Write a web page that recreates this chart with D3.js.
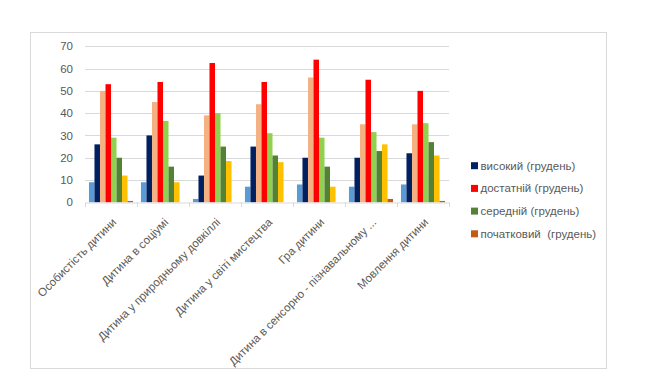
<!DOCTYPE html>
<html><head><meta charset="utf-8">
<script src="https://cdn.jsdelivr.net/npm/d3@7"></script>
<style>body{margin:0;background:#fff}svg{display:block}text{font-family:"Liberation Sans",Arial,sans-serif;white-space:pre}</style>
</head><body>
<svg id="c" width="648" height="382"></svg>
<script>
const categories = ["Особистість дитини","Дитина в соціумі","Дитина у природньому довкіллі","Дитина у світі мистецтва","Гра дитини","Дитина в сенсорно - пізнавальному ...","Мовлення дитини"];
const seriesNames = ["високий (вересень)","високий (грудень)","достатній (вересень)","достатній (грудень)","середній (вересень)","середній (грудень)","початковий (вересень)","початковий  (грудень)"];
const seriesColors = ["#5B9BD5","#002060","#F4B183","#FF0000","#92D050","#548235","#FFC000","#C55A11"];
const legendShown = [1,3,5,7];
const vVysSep = [9,9,1.5,7,8,7,8];
const vVysDec = [26,30,12,25,20,20,22];
const vDostSep = [50,45,39,44,56,35,35];
const vDostDec = [53,54,62.5,54,64,55,50];
const vSerSep = [29,36.5,40,31,29,31.5,35.5];
const vSerDec = [20,16,25,21,16,23,27];
const vPochSep = [12,9,18.5,18,7,26,21];
const vPochDec = [0.6,0,0,0,0,1.5,0.6];
const yTicks = [0,10,20,30,40,50,60,70];
const series = [vVysSep,vVysDec,vDostSep,vDostDec,vSerSep,vSerDec,vPochSep,vPochDec];

const svg = d3.select("#c");
svg.append("rect").attr("x",30.5).attr("y",32.5).attr("width",576).attr("height",336)
  .attr("fill","#fff").attr("stroke","#d9d9d9").attr("stroke-width",1);

const x0 = d3.scaleBand().domain(categories).range([85,449]).paddingInner(0).paddingOuter(0);
const x1 = d3.scaleBand().domain(d3.range(series.length)).range([0,x0.bandwidth()]).paddingOuter(0.72).paddingInner(0);
const y = d3.scaleLinear().domain([0,70]).range([202.3,46.3]);

const grid = svg.append("g");
grid.selectAll("line").data(yTicks.slice(1)).join("line")
  .attr("x1",85).attr("x2",449).attr("y1",d=>Math.round(y(d))+0.5).attr("y2",d=>Math.round(y(d))+0.5)
  .attr("stroke","#d9d9d9").attr("stroke-width",1);

const yAxis = svg.append("g").attr("transform","translate(85,0)")
  .call(d3.axisLeft(y).tickValues(yTicks).tickSize(0).tickPadding(12));
yAxis.select(".domain").remove();
yAxis.selectAll("text").attr("fill","#595959").style("font-size","11.5px");

const gCat = svg.append("g").selectAll("g").data(categories).join("g")
  .attr("transform",d=>`translate(${x0(d)},0)`);
gCat.selectAll("rect").data((d,i)=>series.map((s,k)=>({k,v:s[i]}))).join("rect")
  .attr("x",d=>x1(d.k)).attr("width",x1.bandwidth())
  .attr("y",d=>y(d.v)).attr("height",d=>y(0)-y(d.v))
  .attr("fill",d=>seriesColors[d.k]);

const xAxis = svg.append("g").attr("transform","translate(0,202.5)")
  .call(d3.axisBottom(x0).tickSize(0));
xAxis.select(".domain").attr("stroke","#d9d9d9");
xAxis.selectAll(".tick text").remove();
svg.append("g").selectAll("line").data(d3.range(categories.length+1)).join("line")
  .attr("x1",i=>Math.round(85+i*x0.step())+0.5).attr("x2",i=>Math.round(85+i*x0.step())+0.5)
  .attr("y1",202.5).attr("y2",207).attr("stroke","#d9d9d9");
svg.append("g").selectAll("text").data(categories).join("text")
  .attr("transform",d=>`translate(${x0(d)+x0.bandwidth()/2+6},223) rotate(-45)`)
  .attr("text-anchor","end").attr("fill","#595959").style("font-size","11.5px").text(d=>d);

const leg = svg.append("g").selectAll("g").data(legendShown).join("g")
  .attr("transform",(d,i)=>`translate(471,${165.7+i*22.7})`);
leg.append("rect").attr("x",0).attr("y",-3.5).attr("width",7).attr("height",7).attr("fill",d=>seriesColors[d]);
leg.append("text").attr("x",9.5).attr("y",4).attr("fill","#595959").style("font-size","11.5px").text(d=>seriesNames[d]);
</script>
</body></html>
